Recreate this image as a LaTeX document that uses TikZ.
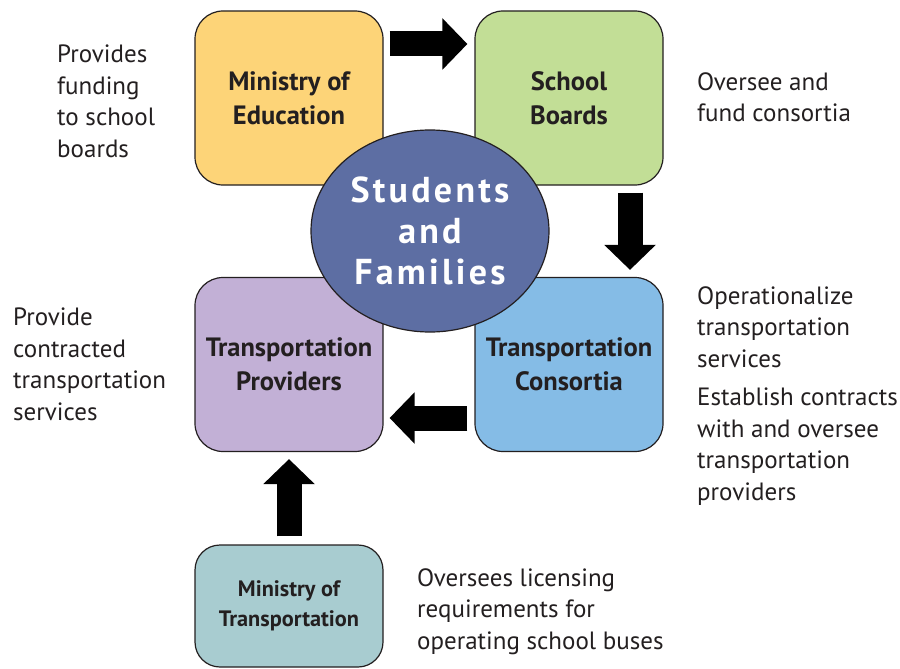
\documentclass[tikz,border=0pt]{standalone}
\usepackage{fontspec}
\setmainfont{PT Sans}
\usetikzlibrary{arrows.meta,shapes.geometric}
\definecolor{txt}{RGB}{35,31,32}
\definecolor{moecol}{RGB}{253,212,120}
\definecolor{sbcol}{RGB}{194,222,150}
\definecolor{tpcol}{RGB}{194,176,214}
\definecolor{tccol}{RGB}{133,188,230}
\definecolor{motcol}{RGB}{168,204,208}
\definecolor{sfcol}{RGB}{93,110,163}
\tikzset{
  box/.style={draw=txt, line width=1.2pt, rounded corners=28pt, minimum width=188pt,
    minimum height=174pt, inner sep=0pt, align=center, text=txt,
    font=\fontsize{26.5}{34}\selectfont\bfseries},
  side/.style={anchor=north west, align=left, text=txt, inner sep=0pt,
    font=\fontsize{25}{31.5}\selectfont},
  blockarrow/.style={line width=25pt, draw=black, -{Triangle[width=50pt,length=25pt]}},
}
\begin{document}
\begin{tikzpicture}[x=1pt,y=-1pt]
\useasboundingbox (0,0) rectangle (900,669);
\node[box, fill=moecol] (moe) at (289,98) {Ministry of\\Education};
\node[box, fill=sbcol] (sb) at (569,98) {School\\Boards};
\node[box, fill=tpcol] (tp) at (289,364.5) {Transportation\\Providers};
\node[box, fill=tccol] (tc) at (569,364.5) {Transportation\\Consortia};
\node[box, fill=motcol, minimum height=122pt, rounded corners=25pt,
  font=\fontsize{22.3}{30}\selectfont\bfseries] (mot) at (289,606) {Ministry of\\Transportation};
\node[ellipse, draw=txt, line width=1.2pt, fill=sfcol, minimum width=238pt, minimum height=202pt,
  inner sep=0pt, align=center, text=white,
  font=\fontsize{36}{41}\selectfont\bfseries\addfontfeatures{LetterSpace=9}] (sf) at (430,231)
  {Students\\and\\Families};
% block arrows
\draw[blockarrow, shorten <=6pt, shorten >=7pt] ([yshift=54pt]moe.east) -- ([yshift=54pt]sb.west);
\draw[blockarrow, shorten <=7pt, shorten >=7pt] ([xshift=61pt]sb.south) -- ([xshift=61pt]tc.north);
\draw[blockarrow, shorten <=7pt, shorten >=6pt] ([yshift=-53.5pt]tc.west) -- ([yshift=-53.5pt]tp.east);
\draw[blockarrow, shorten <=8pt, shorten >=7pt] (mot.north) -- (tp.south);
% side texts
\node[side] (t1) at (57,45) {Provides\\funding\\to school\\boards};
\node[side] (t2) at (697,72) {Oversee and\\fund consortia};
\node[side] (t3) at (13,308) {Provide\\contracted\\transportation\\services};
\node[side] (t4) at (697,286) {Operationalize\\transportation\\services};
\node[side] (t5) at (697,388) {Establish contracts\\with and oversee\\transportation\\providers};
\node[side] (t6) at (417,568) {Oversees licensing\\requirements for\\operating school buses};
\end{tikzpicture}
\end{document}
